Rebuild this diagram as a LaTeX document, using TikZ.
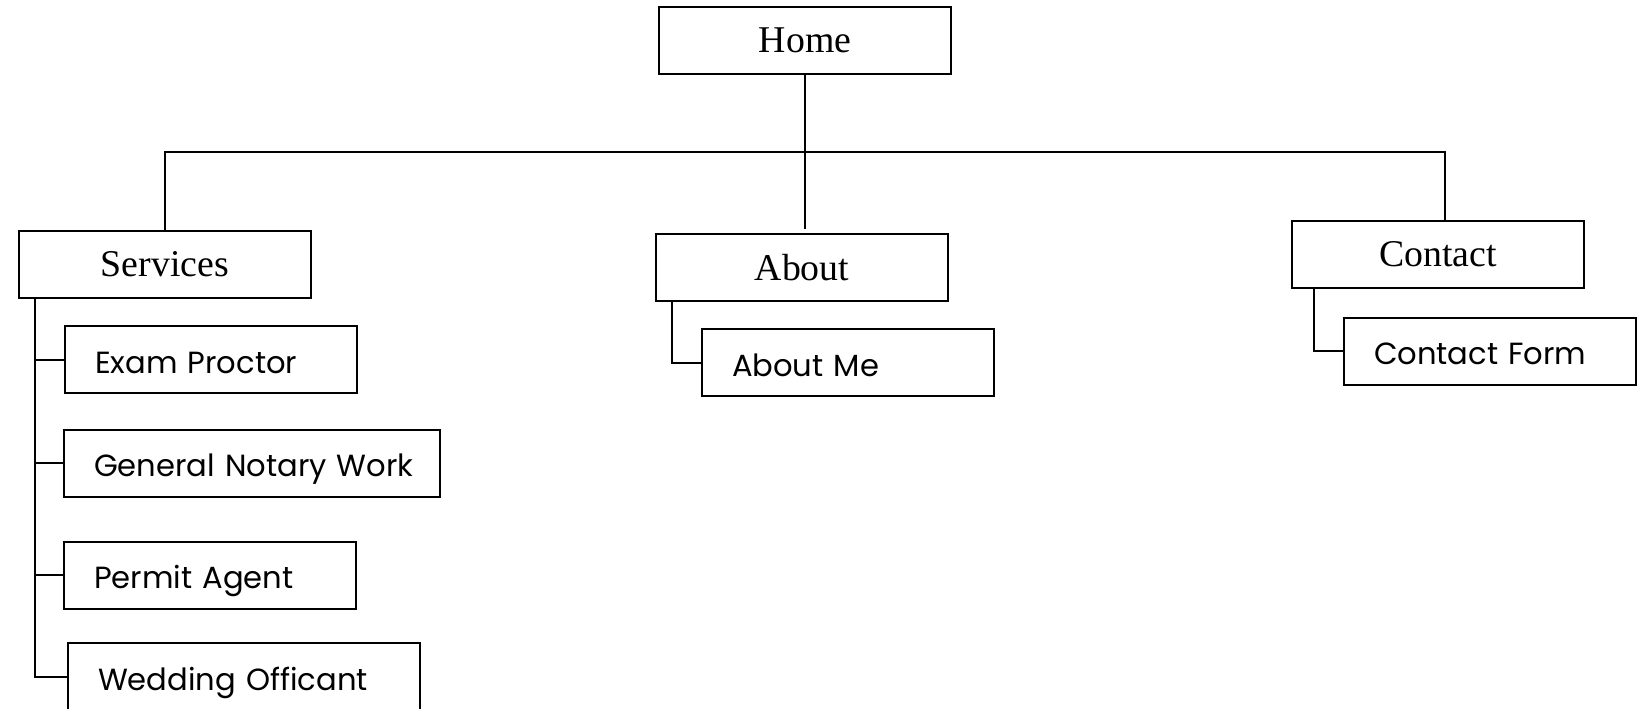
\documentclass[tikz,border=0pt]{standalone}
\usepackage{fontspec}
\setmainfont{Liberation Serif}
\newfontfamily\gothic{Poppins}
\usepackage{tikz}
\tikzset{
  page/.style = {x=0.5pt, y=-0.5pt},
  topbox/.style = {draw, line width=1pt, minimum width=146pt, minimum height=33.5pt, inner sep=0pt, font=\fontsize{18.9}{22}\selectfont},
  subbox/.style = {draw, line width=1pt, text width=#1, inner xsep=15pt, inner ysep=0pt, minimum height=33.5pt, text height=13.5pt, text depth=0pt, align=left, font=\gothic\fontsize{15.3}{18}\selectfont},
  subbox/.default = {116pt},
  link/.style = {line width=1pt}
}

\begin{document}
\begin{tikzpicture}[page]
\useasboundingbox (0,0) rectangle (1645,708);
\node[topbox] (home) at (805,40.5) {Home};
\node[topbox] (services) at (165,264) {Services};
\node[topbox] (about) at (802,267.5) {About};
\node[topbox] (contact) at (1438,254) {Contact};

\node[subbox] (exam) at (211,359.5) {Exam Proctor};
\node[subbox=158pt] (notary) at (252,463) {\mbox{General Notary Work}};
\node[subbox] (permit) at (210,575) {Permit Agent};
\node[subbox=146pt] (wedding) at (244,676.5) {Wedding Officant};
\node[subbox] (aboutme) at (848,362.5) {About Me};
\node[subbox] (form) at (1490,351) {Contact Form};

%\draw[step=10,gray,very thin] (0,0) grid (1645,708);
\coordinate (bar) at (805,152);
\coordinate (cbar) at (1445,152);
\draw[link] (home.south) -- (bar);
\draw[link] (services.north) |- (bar) -- (cbar) -- (cbar |- contact.north);
\draw[link, shorten >=2pt] (bar) -- (bar |- about.north);

\draw[link] ([xshift=8.5pt]services.south west) coordinate (sspine) |- (wedding.west);
\foreach \n in {exam, notary, permit}
  \draw[link] (sspine |- \n.west) -- (\n.west);

\draw[link] ([xshift=8.5pt]about.south west) |- (aboutme.west);
\draw[link] ([xshift=11.5pt]contact.south west) |- (form.west);
\end{tikzpicture}
\end{document}
